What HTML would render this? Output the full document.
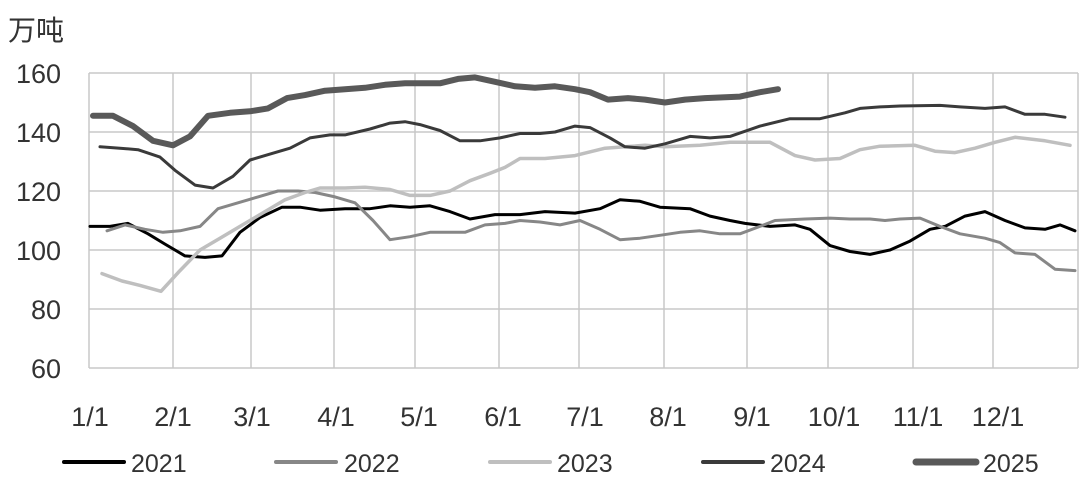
<!DOCTYPE html>
<html><head><meta charset="utf-8"><style>
html,body{margin:0;padding:0;background:#fff;}
svg{display:block;font-family:"Liberation Sans","Noto Sans CJK SC",sans-serif;}
</style></head><body>
<svg id="s" width="1086" height="485" xmlns="http://www.w3.org/2000/svg">
<g stroke="#c8c8c8" stroke-width="1.5" fill="none">
<line x1="89" y1="73" x2="1078" y2="73"/><line x1="89" y1="132" x2="1078" y2="132"/>
<line x1="89" y1="191" x2="1078" y2="191"/><line x1="89" y1="250" x2="1078" y2="250"/>
<line x1="89" y1="309" x2="1078" y2="309"/><line x1="89" y1="368" x2="1078" y2="368"/>
<line x1="89" y1="73" x2="89" y2="368"/><line x1="173" y1="73" x2="173" y2="368"/>
<line x1="251" y1="73" x2="251" y2="368"/><line x1="334" y1="73" x2="334" y2="368"/>
<line x1="415" y1="73" x2="415" y2="368"/><line x1="499" y1="73" x2="499" y2="368"/>
<line x1="579" y1="73" x2="579" y2="368"/><line x1="664" y1="73" x2="664" y2="368"/>
<line x1="747" y1="73" x2="747" y2="368"/><line x1="828" y1="73" x2="828" y2="368"/>
<line x1="913" y1="73" x2="913" y2="368"/><line x1="993" y1="73" x2="993" y2="368"/>
<line x1="1078" y1="73" x2="1078" y2="368"/>
</g>
<g font-size="27" fill="#333" text-anchor="end">
<text x="61" y="83">160</text><text x="61" y="142">140</text><text x="61" y="201">120</text>
<text x="61" y="260">100</text><text x="61" y="319">80</text><text x="61" y="378">60</text>
</g>
<text x="8" y="40" font-size="28" fill="#333">万吨</text>
<g font-size="27" fill="#333" text-anchor="middle">
<text x="90" y="426">1/1</text><text x="173" y="426">2/1</text><text x="252" y="426">3/1</text>
<text x="336" y="426">4/1</text><text x="419" y="426">5/1</text><text x="503" y="426">6/1</text>
<text x="585" y="426">7/1</text><text x="668" y="426">8/1</text><text x="752" y="426">9/1</text>
<text x="834" y="426">10/1</text><text x="918" y="426">11/1</text><text x="998" y="426">12/1</text>
</g>
<g id="lines" fill="none" stroke-linejoin="round" stroke-linecap="round"></g>
<g stroke-linecap="round">
<line x1="64" y1="462" x2="124" y2="462" stroke="#000" stroke-width="4"/>
<line x1="276" y1="462" x2="336" y2="462" stroke="#878787" stroke-width="4"/>
<line x1="490" y1="462" x2="550" y2="462" stroke="#bfbfbf" stroke-width="4"/>
<line x1="703" y1="462" x2="763" y2="462" stroke="#3a3a3a" stroke-width="4"/>
<line x1="916" y1="462" x2="976" y2="462" stroke="#595959" stroke-width="7"/>
</g>
<g font-size="25" fill="#333">
<text x="131" y="472">2021</text><text x="344" y="472">2022</text><text x="557" y="472">2023</text>
<text x="770" y="472">2024</text><text x="983" y="472">2025</text>
</g>
</svg>
<script>
var S=[
["#000",3,[[90,108],[110,108],[128,109],[148,105.5],[165,102],[185,98],[205,97.5],[222,98],[240,106],[260,111],[282,114.5],[300,114.5],[320,113.5],[345,114],[370,114],[390,115],[410,114.5],[430,115],[450,113],[470,110.5],[495,112],[520,112],[545,113],[575,112.5],[600,114],[620,117],[640,116.5],[660,114.5],[690,114],[710,111.5],[730,110],[745,109],[770,108],[795,108.5],[810,107],[830,101.5],[850,99.5],[870,98.5],[890,100],[910,103],[930,107],[945,108],[965,111.5],[985,113],[1005,110],[1025,107.5],[1045,107],[1060,108.5],[1075,106.5]]],
["#878787",3,[[107,106.5],[125,108.5],[145,107],[163,106],[180,106.5],[200,108],[218,114],[238,116],[258,118],[278,120],[298,120],[315,119.5],[335,118],[355,116],[373,110],[390,103.5],[410,104.5],[430,106],[465,106],[485,108.5],[505,109],[520,110],[540,109.5],[560,108.5],[580,110],[600,107],[620,103.5],[640,104],[660,105],[680,106],[700,106.5],[720,105.5],[740,105.5],[760,108],[775,110],[805,110.5],[830,110.8],[850,110.5],[870,110.5],[885,110],[900,110.5],[920,110.8],[940,108],[960,105.5],[985,104],[1000,102.5],[1015,99],[1035,98.5],[1055,93.5],[1075,93]]],
["#bfbfbf",3.5,[[102,92],[122,89.5],[140,88],[161,86],[180,93],[200,100],[220,104],[240,108],[265,113],[285,117],[305,119.5],[320,121],[345,121],[365,121.3],[390,120.5],[410,118.5],[430,118.5],[450,120],[470,123.5],[490,126],[505,128],[520,131],[545,131],[575,132],[605,134.5],[625,135],[645,135.5],[665,135],[700,135.5],[730,136.5],[770,136.5],[795,132],[815,130.5],[840,131],[860,134],[880,135.2],[915,135.5],[935,133.5],[955,133],[975,134.5],[995,136.5],[1015,138.2],[1045,137],[1070,135.5]]],
["#3a3a3a",3,[[100,135],[120,134.5],[138,134],[160,131.5],[175,127],[195,122],[213,121],[233,125],[250,130.5],[270,132.5],[290,134.5],[310,138],[330,139],[345,139],[370,141],[390,143],[405,143.5],[420,142.5],[440,140.5],[460,137],[480,137],[500,138],[520,139.5],[540,139.5],[555,140],[575,142],[590,141.5],[610,138],[625,135],[645,134.5],[665,136],[690,138.5],[710,138],[730,138.5],[760,142],[790,144.5],[820,144.5],[845,146.5],[860,148],[880,148.5],[900,148.8],[940,149],[960,148.5],[985,148],[1005,148.5],[1025,146],[1045,146],[1065,145]]],
["#595959",6,[[93,145.5],[113,145.5],[133,142],[153,137],[173,135.5],[190,138.5],[208,145.5],[230,146.5],[250,147],[268,148],[287,151.5],[305,152.5],[325,154],[345,154.5],[365,155],[385,156],[405,156.5],[440,156.5],[458,158],[475,158.5],[495,157],[515,155.5],[535,155],[555,155.5],[575,154.5],[590,153.5],[608,151],[628,151.5],[645,151],[665,150],[685,151],[705,151.5],[740,152],[760,153.5],[778,154.5]]]
];
var g=document.getElementById("lines"),ns="http://www.w3.org/2000/svg";
S.forEach(function(s){var p=document.createElementNS(ns,"polyline");
p.setAttribute("points",s[2].map(function(a){return a[0]+","+(368-(a[1]-60)*2.95).toFixed(1)}).join(" "));
p.setAttribute("stroke",s[0]);p.setAttribute("stroke-width",s[1]);g.appendChild(p);});
</script>
</body></html>
